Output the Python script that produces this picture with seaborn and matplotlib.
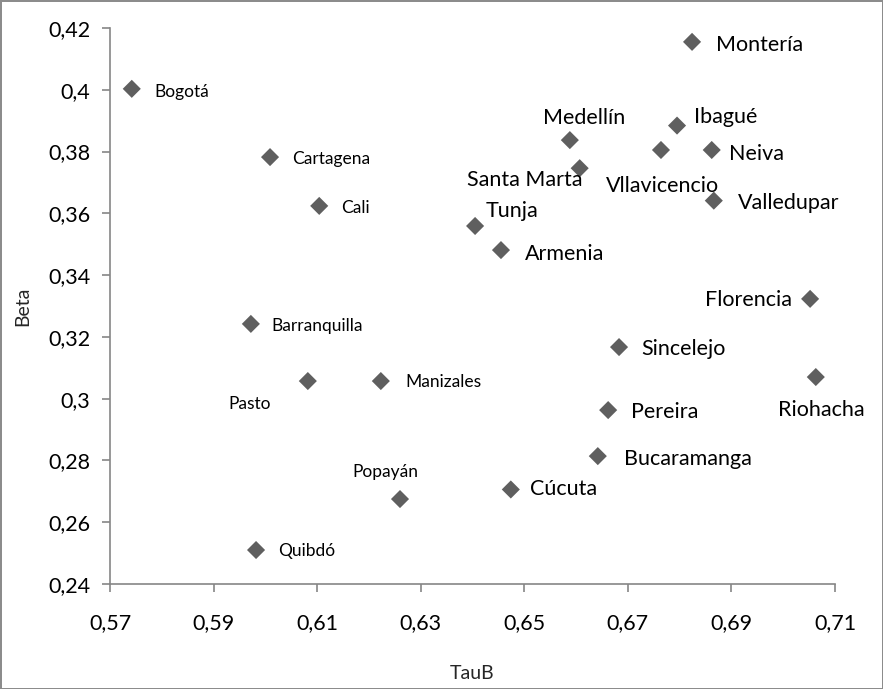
import pandas as pd
import matplotlib.pyplot as plt
import matplotlib.ticker as mticker
import seaborn as sns

#data
cities = ["Bogotá", "Cartagena", "Cali", "Barranquilla", "Pasto", "Manizales",
          "Popayán", "Quibdó", "Tunja", "Armenia", "Medellín", "Santa Marta",
          "Vllavicencio", "Ibagué", "Neiva", "Montería", "Valledupar", "Florencia",
          "Sincelejo", "Riohacha", "Pereira", "Bucaramanga", "Cúcuta"]
taub = [0.5742, 0.6009, 0.6104, 0.5972, 0.6082, 0.6223,
        0.6260, 0.5982, 0.6405, 0.6455, 0.6588, 0.6607,
        0.6764, 0.6795, 0.6862, 0.6824, 0.6866, 0.7052,
        0.6683, 0.7063, 0.6662, 0.6642, 0.6474]
beta = [0.4003, 0.3782, 0.3624, 0.3242, 0.3057, 0.3057,
        0.2675, 0.2510, 0.3559, 0.3481, 0.3837, 0.3746,
        0.3805, 0.3884, 0.3805, 0.4155, 0.3641, 0.3323,
        0.3167, 0.3070, 0.2963, 0.2814, 0.2706]

#label placement (offset in pixels, alignment, small font or not)
label_pos = {
    "Bogotá": (23, -3, "left", True),
    "Cartagena": (22, -2, "left", True),
    "Cali": (22, -2, "left", True),
    "Barranquilla": (21, -2, "left", True),
    "Pasto": (-58, -23, "center", True),
    "Manizales": (25, -1, "left", True),
    "Popayán": (-15, 27, "center", True),
    "Quibdó": (22, -1, "left", True),
    "Tunja": (11, 15, "left", False),
    "Armenia": (24, -4, "left", False),
    "Medellín": (14, 22, "center", False),
    "Santa Marta": (3, -12, "right", False),
    "Vllavicencio": (2, -36, "center", False),
    "Ibagué": (17, 9, "left", False),
    "Neiva": (17, -4, "left", False),
    "Montería": (24, -3, "left", False),
    "Valledupar": (24, -2, "left", False),
    "Florencia": (-18, -1, "right", False),
    "Sincelejo": (22, -2, "left", False),
    "Riohacha": (6, -33, "center", False),
    "Pereira": (23, -2, "left", False),
    "Bucaramanga": (26, -3, "left", False),
    "Cúcuta": (19, 0, "left", False),
}

df = pd.DataFrame({"City": cities, "TauB": taub, "Beta": beta})

sns.set_style("white")
plt.rcParams['font.family'] = ['Lato', 'DejaVu Sans']

fig = plt.figure(figsize=(8.83, 6.89), dpi=100)
fig.patch.set_edgecolor("#8c8c8c")
fig.patch.set_linewidth(2)
ax = fig.add_axes([0.1246, 0.1524, 0.821, 0.807])

sns.scatterplot(data=df, x="TauB", y="Beta", marker="D", s=85,
                color="#5f5f5f", edgecolor="none", ax=ax)

for name, x, y in zip(cities, taub, beta):
    dx, dy, ha, small = label_pos[name]
    ax.annotate(name, (x, y), xytext=(dx, dy), textcoords="offset pixels",
                ha=ha, va="center", fontsize=12.5 if small else 15.5, color="black")

ax.set_xlim(0.57, 0.71)
ax.set_ylim(0.24, 0.42)
ax.set_xticks([0.57, 0.59, 0.61, 0.63, 0.65, 0.67, 0.69, 0.71])
ax.set_yticks([0.24, 0.26, 0.28, 0.30, 0.32, 0.34, 0.36, 0.38, 0.40, 0.42])

fmt = mticker.FuncFormatter(lambda v, p: f"{v:.2f}".rstrip("0").replace(".", ","))
ax.xaxis.set_major_formatter(fmt)
ax.yaxis.set_major_formatter(fmt)

for side in ["top", "right"]:
    ax.spines[side].set_visible(False)
for side in ["left", "bottom"]:
    ax.spines[side].set_color("#868686")
    ax.spines[side].set_linewidth(1.2)
ax.tick_params(axis="both", direction="out", length=6, width=1.2, color="#868686",
               labelsize=15.5, labelcolor="black", left=True, bottom=True)
ax.tick_params(axis="x", pad=15)
ax.tick_params(axis="y", pad=8)

ax.set_xlabel("TauB", fontsize=14, labelpad=23)
ax.set_ylabel("Beta", fontsize=14, labelpad=12)

fig.savefig("out.png", dpi=100, edgecolor=fig.get_edgecolor())
